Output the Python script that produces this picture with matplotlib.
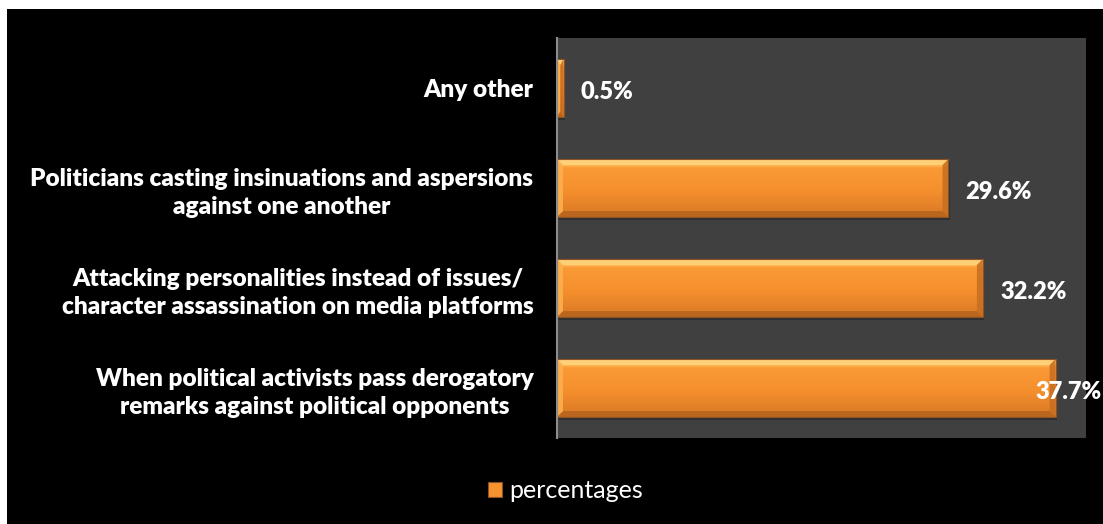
import numpy as np
import matplotlib
matplotlib.use("Agg")
import matplotlib.pyplot as plt
from matplotlib.patches import Rectangle, Polygon
from matplotlib.colors import LinearSegmentedColormap

# categories from bottom to top
categories = [
    "When political activists pass derogatory\nremarks against political opponents",
    "Attacking personalities instead of issues/\ncharacter assassination on media platforms",
    "Politicians casting insinuations and aspersions\nagainst one another",
    "Any other",
]
values = [37.7, 32.2, 29.6, 0.5]
series_name = "percentages"

plt.rcParams['font.family'] = ['Lato', 'DejaVu Sans']

fig = plt.figure(figsize=(11.03, 5.24), dpi=100)
fig.patch.set_facecolor("white")
# black panel with thin white strip on top and left
fig.patches.append(Rectangle((7 / 1103, 0), 1 - 7 / 1103, 515 / 524,
                             transform=fig.transFigure, facecolor="black",
                             edgecolor="none", zorder=-10))

ax = fig.add_axes([557 / 1103, 86 / 524, 529 / 1103, 400 / 524])
ax.set_facecolor("#404040")

ypos = np.arange(len(categories))
bars = ax.barh(ypos, values, height=0.58, color="#F7932F",
               edgecolor="#8A5226", linewidth=0.8, zorder=3)

ax.set_xlim(0, 40)
ax.set_ylim(-0.5, 3.5)

# orange shading for the bar body
body = LinearSegmentedColormap.from_list("body", [
    (0.0, "#C8701F"), (0.12, "#E07E28"), (0.45, "#F58F2E"),
    (0.85, "#FA9A35"), (0.93, "#FFD070"), (1.0, "#FFB955")])
grad = np.linspace(0, 1, 256).reshape(-1, 1)

for b in bars:
    x0, y0 = b.get_x(), b.get_y()
    w, h = b.get_width(), b.get_height()
    # soft shadow under each bar
    ax.add_patch(Rectangle((x0, y0 - 0.03), w + 0.1, h, facecolor="black",
                           alpha=0.25, edgecolor="none", zorder=2))
    im = ax.imshow(grad, cmap=body, aspect="auto", origin="lower",
                   extent=[x0, x0 + w, y0, y0 + h], zorder=3.5)
    im.set_clip_path(b)
    dx = min(0.45, w / 2)
    dy = 0.06
    top = [(x0, y0 + h), (x0 + w, y0 + h), (x0 + w - dx, y0 + h - dy), (x0 + dx, y0 + h - dy)]
    bot = [(x0, y0), (x0 + w, y0), (x0 + w - dx, y0 + dy), (x0 + dx, y0 + dy)]
    left = [(x0, y0), (x0, y0 + h), (x0 + dx, y0 + h - dy), (x0 + dx, y0 + dy)]
    right = [(x0 + w, y0), (x0 + w, y0 + h), (x0 + w - dx, y0 + h - dy), (x0 + w - dx, y0 + dy)]
    ax.add_patch(Polygon(top, closed=True, facecolor="#FFD27A", edgecolor="none", alpha=0.9, zorder=4))
    ax.add_patch(Polygon(bot, closed=True, facecolor="#B8651E", edgecolor="none", alpha=0.9, zorder=4))
    ax.add_patch(Polygon(left, closed=True, facecolor="#FBB04E", edgecolor="none", alpha=0.9, zorder=4))
    ax.add_patch(Polygon(right, closed=True, facecolor="#C96F22", edgecolor="none", alpha=0.9, zorder=4))
    ax.add_patch(Rectangle((x0, y0), w, h, facecolor="none", edgecolor="#8A5226",
                           linewidth=0.8, zorder=4.5))

# value labels, pulled back inside the figure when the bar runs long
for y, v in zip(ypos, values):
    ax.text(min(v + 1.3, 36.2), y - 0.04, f"{v}%", color="white", fontsize=17,
            fontweight="heavy", va="center", ha="left", zorder=6, clip_on=False)

ax.set_yticks(ypos)
ax.set_yticklabels(categories, color="white", fontsize=17.6, fontweight="heavy")
for t in ax.get_yticklabels():
    t.set_multialignment("center")
    t.set_linespacing(1.35)
ax.tick_params(axis="y", length=0, pad=17)
ax.set_xticks([])

for s in ["top", "right", "bottom"]:
    ax.spines[s].set_visible(False)
ax.spines["left"].set_color("#8C8C8C")
ax.spines["left"].set_linewidth(1.5)
ax.spines["left"].set_zorder(5)

handle = Rectangle((0, 0), 1, 1, facecolor="#F7932F", edgecolor="#8A5226", linewidth=0.8)
leg = fig.legend([handle], [series_name], loc="center", bbox_to_anchor=(0.513, 0.063),
                 frameon=False, fontsize=18, labelcolor="white",
                 handlelength=0.55, handleheight=0.55, handletextpad=0.3)

fig.savefig("out.png", dpi=100, facecolor=fig.get_facecolor())
